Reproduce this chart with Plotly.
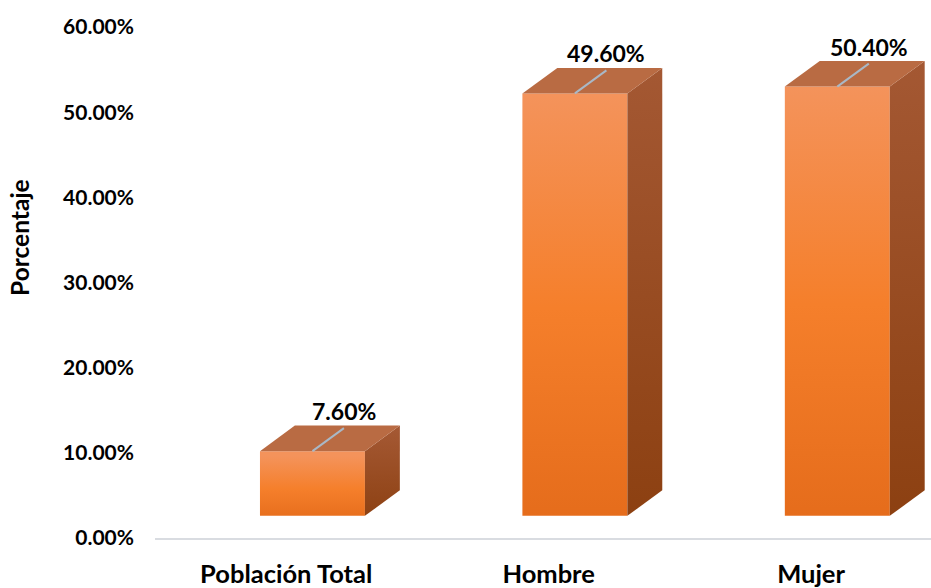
import plotly.graph_objects as go

categories = ["Población Total", "Hombre", "Mujer"]
values = [7.6, 49.6, 50.4]
value_labels = ["7.60%", "49.60%", "50.40%"]
y_ticks = [0, 10, 20, 30, 40, 50, 60]
y_tick_labels = ["0.00%", "10.00%", "20.00%", "30.00%", "40.00%", "50.00%", "60.00%"]

FLOOR = 2.6   # visual floor of 3D bars (axis units)
X0, X1 = -0.1, 0.3  # front face extent relative to category center
DX, DY = 0.133, 3.0  # depth offset
FONT = "Lato"

fig = go.Figure()

for i, v in enumerate(values):
    top = FLOOR + v
    # front face
    fig.add_trace(go.Scatter(
        x=[i + X0, i + X1, i + X1, i + X0, i + X0],
        y=[FLOOR, FLOOR, top, top, FLOOR],
        mode="lines", line=dict(width=0), fill="toself",
        fillgradient=dict(type="vertical", start=FLOOR, stop=top,
                          colorscale=[[0, "#E56C1B"], [0.5, "#F57F2B"], [1, "#F4935B"]]),
        hoverinfo="skip", showlegend=False))
    # side face
    fig.add_trace(go.Scatter(
        x=[i + X1, i + X1 + DX, i + X1 + DX, i + X1, i + X1],
        y=[FLOOR, FLOOR + DY, top + DY, top, FLOOR],
        mode="lines", line=dict(width=0), fill="toself",
        fillgradient=dict(type="vertical", start=FLOOR, stop=top + DY,
                          colorscale=[[0, "#8C4011"], [1, "#A45833"]]),
        hoverinfo="skip", showlegend=False))
    # top face
    fig.add_trace(go.Scatter(
        x=[i + X0, i + X1, i + X1 + DX, i + X0 + DX, i + X0],
        y=[top, top, top + DY, top + DY, top],
        mode="lines", line=dict(width=0), fill="toself", fillcolor="#B96B43",
        hoverinfo="skip", showlegend=False))
    # leader line
    fig.add_trace(go.Scatter(
        x=[i + 0.1, i + 0.22], y=[top, top + 2.7],
        mode="lines", line=dict(color="#A9B8C6", width=2),
        hoverinfo="skip", showlegend=False))
    fig.add_annotation(x=i + 0.22, y=top + 4.7, text=value_labels[i],
                       showarrow=False, xanchor="center", yanchor="middle",
                       font=dict(family=FONT, size=23, color="#000000", weight="bold"))

fig.add_annotation(xref="paper", yref="paper", x=(20 - 155) / 776, y=(541 - 238) / 516,
                   text="Porcentaje", textangle=-90, showarrow=False,
                   xanchor="center", yanchor="middle",
                   font=dict(family=FONT, size=24.5, color="#000000", weight="bold"))

fig.update_layout(
    width=931, height=588,
    margin=dict(l=155, r=0, t=27, b=44),
    plot_bgcolor="white", paper_bgcolor="white",
    xaxis=dict(range=[-0.5, 2.457], tickvals=[0, 1, 2], ticktext=categories,
               showgrid=False, zeroline=False, showline=True,
               linecolor="#D9DCE1", linewidth=2, ticks="", ticklabelstandoff=12,
               tickfont=dict(family=FONT, size=25.5, color="#000000", weight="bold")),
    yaxis=dict(range=[0, 60], tickvals=y_ticks, ticktext=y_tick_labels,
               showgrid=False, zeroline=False, showline=False, ticks="",
               ticklabelstandoff=20,
               tickfont=dict(family=FONT, size=21, color="#000000", weight="bold")),
)

fig.write_html("out.html", config={"displayModeBar": False},
               post_script="document.body.style.margin='0';")
